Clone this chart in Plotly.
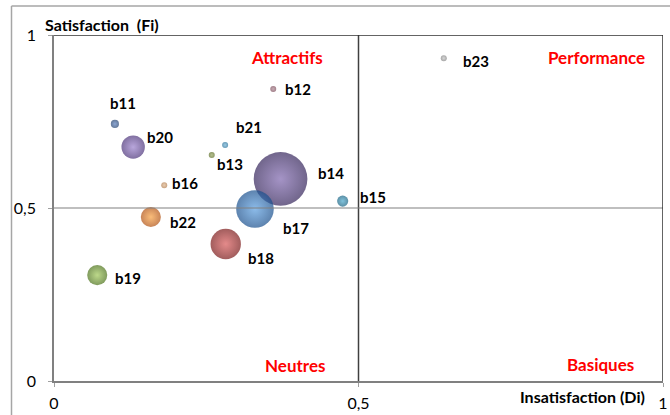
import plotly.graph_objects as go

# ---- data ----
labels = ["b11", "b20", "b12", "b21", "b13", "b16", "b14", "b15", "b17", "b18", "b22", "b19", "b23"]
insatisfaction = [0.100, 0.130, 0.360, 0.281, 0.259, 0.181, 0.372, 0.474, 0.330, 0.282, 0.159, 0.071, 0.640]
satisfaction = [0.743, 0.676, 0.844, 0.682, 0.653, 0.566, 0.584, 0.520, 0.497, 0.396, 0.474, 0.306, 0.933]
weights = [2.3, 19, 0.3, 0.6, 0.5, 0.6, 100, 4.3, 49, 32, 14, 14, 0.6]
tick_vals = [0, 0.5, 1]
tick_text = ["0", "0,5", "1"]
quadrants = ["Attractifs", "Performance", "Neutres", "Basiques"]

# ---- styles ----
edge_colors = ["#22406e", "#4a3278", "#7a4a58", "#256f98", "#5a6a24", "#b07a4a", "#34245a",
               "#166080", "#184e8c", "#7a1818", "#b05010", "#4a7018", "#808080"]
center_colors = ["#5a80c0", "#9a80cc", "#b08894", "#70b4d8", "#98a860", "#e0b890", "#7e66ae",
                 "#4aa8cc", "#5a9ee0", "#d85858", "#f8a040", "#a0c858", "#c8c8c8"]
label_dx = [8, 27, 25, 24, 18, 21, 50, 30, 41, 35, 32, 31, 32]
label_dy = [21, 10, 0, 18, -9, 2, 6, 4, -19, -14, -5, -3, -3]
quad_pos = [(0.383, 0.936), (0.891, 0.936), (0.396, 0.046), (0.898, 0.049)]

FONT = "Lato"

fig = go.Figure()
fig.add_trace(go.Scatter(
    x=insatisfaction, y=satisfaction, mode="markers",
    marker=dict(size=weights, sizemode="area", sizeref=3.9 * 100 / (2 * 53 ** 2), sizemin=3,
                color=edge_colors, line=dict(width=0),
                gradient=dict(type="radial", color=center_colors)),
    hoverinfo="text", text=labels, showlegend=False,
))

annotations = []
for lab, x, y, dx, dy in zip(labels, insatisfaction, satisfaction, label_dx, label_dy):
    annotations.append(dict(x=x, y=y, text=lab, showarrow=False, xshift=dx, yshift=dy,
                            xanchor="center", yanchor="middle",
                            font=dict(family=FONT, size=15, color="#000000", weight="bold")))
for q, (qx, qy) in zip(quadrants, quad_pos):
    annotations.append(dict(x=qx, y=qy, text=q, showarrow=False, xanchor="center", yanchor="middle",
                            font=dict(family=FONT, size=17, color="#ff0000", weight="bold")))

# axis titles
annotations.append(dict(xref="paper", yref="paper", x=(102 - 54) / 609, y=(381 - 24) / 346,
                        text="Satisfaction  (Fi)", showarrow=False, xanchor="center", yanchor="middle",
                        font=dict(family=FONT, size=16, color="#000000", weight="bold")))
annotations.append(dict(xref="paper", yref="paper", x=(582 - 54) / 609, y=(381 - 396) / 346,
                        text="Insatisfaction (Di)", showarrow=False, xanchor="center", yanchor="middle",
                        font=dict(family=FONT, size=16, color="#000000", weight="bold")))

shapes = [
    # outer chart border
    dict(type="line", xref="paper", yref="paper", x0=(11.5 - 54) / 609, x1=(11.5 - 54) / 609,
         y0=-0.3, y1=(381 - 6) / 346, line=dict(color="#a6a6a6", width=1.5)),
    dict(type="line", xref="paper", yref="paper", x0=(11.5 - 54) / 609, x1=1.2,
         y0=(381 - 6) / 346, y1=(381 - 6) / 346, line=dict(color="#a6a6a6", width=1.5)),
    # quadrant dividers
    dict(type="line", x0=0.5, x1=0.5, y0=0, y1=1, line=dict(color="#404040", width=1.5)),
    dict(type="line", x0=0, x1=1, y0=0.5, y1=0.5, line=dict(color="#808080", width=1.2)),
    # top and right frame
    dict(type="line", x0=0, x1=1, y0=1, y1=1, line=dict(color="#303030", width=1.5)),
    dict(type="line", x0=1, x1=1, y0=0, y1=1, line=dict(color="#303030", width=1.5)),
]

fig.update_layout(
    width=670, height=415,
    margin=dict(l=54, r=7, t=35, b=34),
    paper_bgcolor="white", plot_bgcolor="white",
    font=dict(family=FONT, size=16, color="#000000"),
    annotations=annotations, shapes=shapes,
    xaxis=dict(range=[0, 1], tickvals=tick_vals, ticktext=tick_text, showgrid=False, zeroline=False,
               showline=True, linecolor="#808080", linewidth=1.5, ticks="outside", ticklen=4,
               tickcolor="#a0a0a0", ticklabelstandoff=3, ticklabeloverflow="allow",
               automargin=False, tickfont=dict(family=FONT, size=16)),
    yaxis=dict(range=[0, 1], tickvals=tick_vals, ticktext=tick_text, showgrid=False, zeroline=False,
               showline=True, linecolor="#808080", linewidth=1.5, ticks="outside", ticklen=4,
               tickcolor="#a0a0a0", ticklabelstandoff=9, ticklabeloverflow="allow",
               automargin=False, tickfont=dict(family=FONT, size=16)),
)

fig.write_html("out.html", config={"displayModeBar": False},
               post_script="document.body.style.margin='0';document.body.style.overflow='hidden';")
